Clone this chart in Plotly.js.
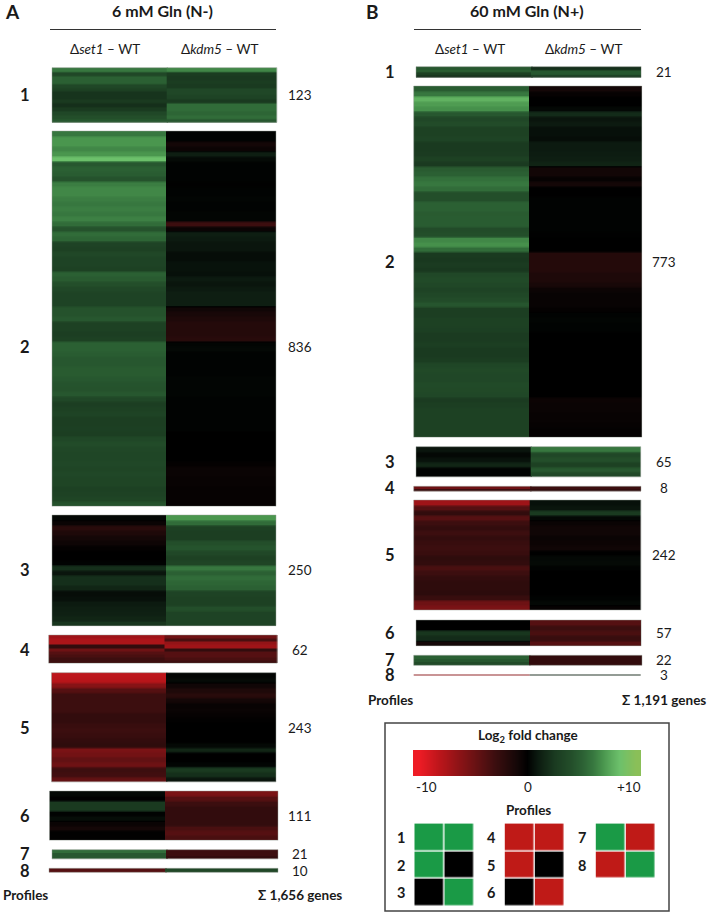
<!DOCTYPE html>
<html><head><meta charset="utf-8">
<script src="https://cdn.plot.ly/plotly-3.0.1.min.js"></script>
<style>html,body{margin:0;padding:0;background:#fff}#c{width:709px;height:914px}</style>
</head><body><div id="c"></div>
<script>
// ---------- Log2 fold change, one value per row ----------
const A1_set1=[6,3.5,5,5,3.5,3,2.2,2.2,2.5,2,2.5,3.5,4,4.5];
const A1_kdm5=[6.5,2.7,2.5,2.7,2.5,3.5,3.5,3.2,2.5,5.5,5.5,5.2,5.5,4.5];
const A2_set1=[6,7,7,6.5,7,8.5,4.5,5,4.8,4.2,6.2,6.5,6.5,6.2,6,6.2,6,6.3,5.5,4.2,5.5,5.2,3.2,3,3.5,3.2,3.2,3,5,4.7,4,3.5,3.2,3.2,
 3.2,4.2,4.2,4.5,3,3,2.8,3,5,5,4.8,4.5,4.5,4.7,4.7,4.5,4.3,4.2,4.5,3.5,2.8,3,3.2,2.8,2.8,2.9,2.8,3.5,3.8,3.5,3.4,3.4,3.5,3.3,3.5,3.3,3.3,3,3.1,3.3,4.2];
const A2_kdm5=[.1,.1,-1,-.6,1.2,.4,.1,.1,.1,.1,.05,.1,.1,.2,.1,.1,.2,.2,-3,-.5,1.2,1,.8,.8,.5,.5,.7,.7,.6,1,.8,1,1.2,1.2,
 1.2,-.8,-1.2,-1.5,-1.8,-1.8,-1.8,-2,.2,.3,.1,.1,.1,.1,.1,.2,.2,.2,.2,.1,.1,.1,.1,.1,.1,.1,0,0,0,0,0,0,-.2,-.5,-.5,-.4,-.4,-.3,-.3,-.3,-.3];
const A3_set1=[.3,-.5,-2,-1.5,-1,-.7,-.2,0,0,.1,2,.8,2,2,1.5,.5,.6,1,1.2,1.3,1.5,2.3];
const A3_kdm5=[7,5.5,3,2.8,2.8,4,4.3,3.5,3,3.3,6,5,5.5,5.2,5,3.2,3,3,4,3.2,3.2,3.2];
const A4_set1=[-7,-7.5,-7.5,-2.5,-5,-4,-3.5,-3,-3];
const A4_kdm5=[-5,-3.5,-6.5,-7,-2.5,-4,-4,-3.5,-3];
const A5_set1=[-8.2,-8,-6,-4,-3,-3,-3,-3,-2.5,-2.5,-2.8,-3,-2.8,-2.5,-2.3,-5.5,-5.2,-4.5,-5,-3,-3.2,-4.5];
const A5_kdm5=[.2,.4,-.8,-1.5,-2,-1,-.4,-.5,-.3,-.1,0,0,0,0,.3,1.5,0,0,.2,2.5,2,.8];
const A6_set1=[.3,0,2.5,2.5,.1,.5,-.5,-1,-.1,-.1];
const A6_kdm5=[-5.5,-4,-3,-2.5,-2.5,-2.5,-2.5,-3.5,-4,-3.5];
const A7_set1=[5.5,4.5,4.5];
const A7_kdm5=[-3,-3,-2.5];
const A8_set1=[-4];
const A8_kdm5=[3.5];

const B1_set1=[4.5,5,3,2];
const B1_kdm5=[2,4.5,4.5,2.5];
const B2_set1=[4.8,6,8,7.2,6.8,4.5,3.5,3.8,3,3,3.2,2.5,2.5,2.6,3,2.5,4.7,5,5.7,6,5.5,4,4,5,5,4.7,4.8,4.8,3.8,4,6.5,6.8,5.5,2.5,2.4,2.6,2.4,3.5,3.7,3.5,3.2,3.5,3.8,
 4.4,2.8,2.8,3,3,2.9,2.6,2.6,2.8,2.5,2.5,2.7,3.4,3.6,3.5,3.5,3.7,3.6,3.5,2.6,2.8,3,3,3,3,3,3];
const B2_kdm5=[-1,-.3,0,0,.3,1.8,.8,1,.6,.6,.5,1,1,1.1,1.2,1.4,-.9,-.9,-.3,-1,0,0,.1,.1,.1,.1,.1,.1,.1,.05,0,0,0,-1.8,-1.8,-1.8,-1.8,-1.5,-1.5,-1.2,-.6,-.4,-.4,
 -.4,-.2,.1,.2,.1,.1,0,0,0,0,0,0,0,0,0,0,0,0,0,-.6,-.5,-.5,-.4,-.4,-.3,-.2,-.2];
const B3_set1=[.8,.3,.7,1.5,.1,.1];
const B3_kdm5=[6,3.5,4,3,4.5,3.5];
const B4_set1=[-5,-3];
const B4_kdm5=[-3,-2.5];
const B5_set1=[-7,-4,-2.5,-4,-3,-2.5,-3,-2.5,-2.8,-3,-2.8,-2.3,-2.5,-3.5,-3,-2.5,-2.3,-2.3,-2.2,-2.8,-5,-5.5];
const B5_kdm5=[.6,.8,2.5,.3,-.5,-.8,-.8,-.5,-.6,-.8,0,.3,.4,.1,0,0,0,0,0,.1,.3,-.3];
const B6_set1=[0,0,2.3,1.8,-1];
const B6_kdm5=[-4,-3,-3.5,-2.8,-4];
const B7_set1=[5,4.5,3.8];
const B7_kdm5=[-2.5,-2.5,-2.5];
const B8_set1=[-6];
const B8_kdm5=[1.5];

const legendTicks=[-10,0,10];
const legendValues=[-10,-9,-8,-7,-6,-5,-4,-3,-2,-1,0,1,2,3,4,5,6,7,8,9,10];
const profilesCol1=[[1,1],[1,0],[0,1]];
const profilesCol2=[[-1,-1],[-1,0],[0,-1]];
const profilesCol3=[[1,-1],[-1,1]];

const countsA=[123,836,250,62,243,111,21,10];
const countsB=[21,773,65,8,242,57,22,3];

// ---------- Layout geometry (page pixels), separate from the data ----------
const G={
 A:[[52,166.7,277,67.7,122.3],[52,166,276,131,506.3],[52,166,276,515,625.7],[48.7,164.5,277,635,663.3],
    [51.5,166,276,672.7,782],[49.5,165,278,791,840.3],[52,166,278,849.7,859],[49,165,278,868.3,872.3]],
 B:[[416,531,641.3,66.7,77.3],[413.7,529,641.7,86,437.3],[416,530.7,640.7,446.7,477],[413.7,530,641,486.3,491],
    [413.7,529.7,641,500,610],[416,530,641.3,620,645.7],[413.7,529,642,655.3,665.3],[413.7,529.7,641,674,675.7]]
};
const labelY={A:[95,347,570,650,728,816,854,871],B:[72,262,462,488,555,633,660,675]};
const labelX={A:[25,300],B:[390,664]};

const cs=(()=>{const s=[[-10,'#ee1c25'],[-8,'#b8151a'],[-5,'#6e1214'],[-3,'#3c0e0f'],[-1,'#140707'],[0,'#000000'],[1,'#0c1a10'],
 [2.5,'#1a3a20'],[4,'#234e2a'],[5,'#2b6033'],[6,'#37773f'],[7,'#4a964e'],[8.5,'#6cc06b'],[10,'#8abf58']];
 return s.map(([v,c])=>[(v+10)/20,c]);})();

const dataA=[[A1_set1,A1_kdm5],[A2_set1,A2_kdm5],[A3_set1,A3_kdm5],[A4_set1,A4_kdm5],[A5_set1,A5_kdm5],[A6_set1,A6_kdm5],[A7_set1,A7_kdm5],[A8_set1,A8_kdm5]];
const dataB=[[B1_set1,B1_kdm5],[B2_set1,B2_kdm5],[B3_set1,B3_kdm5],[B4_set1,B4_kdm5],[B5_set1,B5_kdm5],[B6_set1,B6_kdm5],[B7_set1,B7_kdm5],[B8_set1,B8_kdm5]];

const traces=[],shapes=[],ann=[];
const F='Lato, "Open Sans", sans-serif', INK='#1a1a1a';
function txt(x,y,text,size,bold,anchor){
 ann.push({x,y,xref:'x',yref:'y',text:bold?'<b>'+text+'</b>':text,showarrow:false,xanchor:anchor||'center',yanchor:'middle',
  font:{family:F,size,color:INK},borderpad:0});
}
function col(xa,xb,y0,y1,vals,op){
 // each value spans two half rows, so smoothing only softens the band edges
 const smooth=vals.length>=4, sub=smooth?vals.flatMap(v=>[v,v]):vals, n=sub.length, ys=[];
 for(let k=0;k<=n;k++)ys.push(y0+(y1-y0)*k/n);
 traces.push({type:'heatmap',x:[xa,(xa+xb)/2,xb],y:ys,z:sub.map(v=>[v,v]),zmin:-10,zmax:10,colorscale:cs,showscale:false,
   hoverinfo:'skip',opacity:op,zsmooth:smooth?'best':false});
}
function panel(key,data,counts){
 data.forEach((cols,i)=>{
  const [x0,xm,x1,y0,y1]=G[key][i], faint=(key==='B'&&i===7), op=faint?0.45:1;
  col(x0,faint?xm:xm+1.5,y0,y1,cols[0],op); col(xm,x1,y0,y1,cols[1],op);
  if(!faint) shapes.push({type:'rect',xref:'x',yref:'y',x0,x1,y0,y1,line:{color:'rgba(150,160,150,0.45)',width:1}});
  txt(labelX[key][0],labelY[key][i],String(i+1),16.5,true);
  txt(labelX[key][1],labelY[key][i],String(counts[i]),13.5,false);
 });
}
panel('A',dataA,countsA);
panel('B',dataB,countsB);

// headers
txt(12,11,'A',19,true); txt(372,11,'B',19,true);
txt(162,10,'6 mM Gln (N-)',16,true); txt(527,10,'60 mM Gln (N+)',16,true);
txt(105,49,'Δ<i>set1</i> – WT',13.5,false); txt(219,49,'Δ<i>kdm5</i> – WT',13.5,false);
txt(470,49,'Δ<i>set1</i> – WT',13.5,false); txt(583,49,'Δ<i>kdm5</i> – WT',13.5,false);
[[50,276],[414,641]].forEach(([a,b])=>shapes.push({type:'line',xref:'x',yref:'y',x0:a,x1:b,y0:29.5,y1:29.5,line:{color:'#333',width:1}}));
txt(2,895,'Profiles',13.5,true,'left'); txt(343,895,'Σ 1,656 genes',13.5,true,'right');
txt(367,700,'Profiles',13.5,true,'left'); txt(707,700,'Σ 1,191 genes',13.5,true,'right');

// legend box
shapes.push({type:'rect',xref:'x',yref:'y',x0:385,x1:669,y0:723,y1:911,line:{color:'#444',width:1.5}});
txt(528,736,'Log<sub>2</sub> fold change',13.5,true);
const legendEdges=legendValues.concat([null]).map((_,i)=>413+228*i/legendValues.length);
traces.push({type:'heatmap',x:legendEdges,y:[750,763,776],
  z:[legendValues,legendValues],zmin:-10,zmax:10,colorscale:cs,showscale:false,zsmooth:'best',hoverinfo:'skip'});
[426,528,629].forEach((x,i)=>{const t=legendTicks[i];txt(x,787,(t>0?'+':'')+t,13.5,false);});
txt(528,810,'Profiles',13.5,true);
const pcs=[[0,'#bf1a17'],[.5,'#000000'],[1,'#1a9a46']];
[[profilesCol1,415,1],[profilesCol2,505.3,4],[profilesCol3,596.3,7]].forEach(([p,x0,start])=>{
  traces.push({type:'heatmap',z:p,x0:x0+14.6,dx:30.2,y0:824+13.4,dy:27.6,zmin:-1,zmax:1,colorscale:pcs,showscale:false,xgap:1.4,ygap:1.4,hoverinfo:'skip'});
  p.forEach((_,i)=>txt(x0-14,837.5+i*27.6,String(start+i),14.5,true));
});

Plotly.newPlot('c',traces,{
 width:709,height:914,margin:{l:0,r:0,t:0,b:0},paper_bgcolor:'#fff',plot_bgcolor:'#fff',showlegend:false,
 xaxis:{range:[0,709],visible:false,fixedrange:true},
 yaxis:{range:[914,0],visible:false,fixedrange:true},
 shapes,annotations:ann
},{staticPlot:true,displayModeBar:false});
</script></body></html>
